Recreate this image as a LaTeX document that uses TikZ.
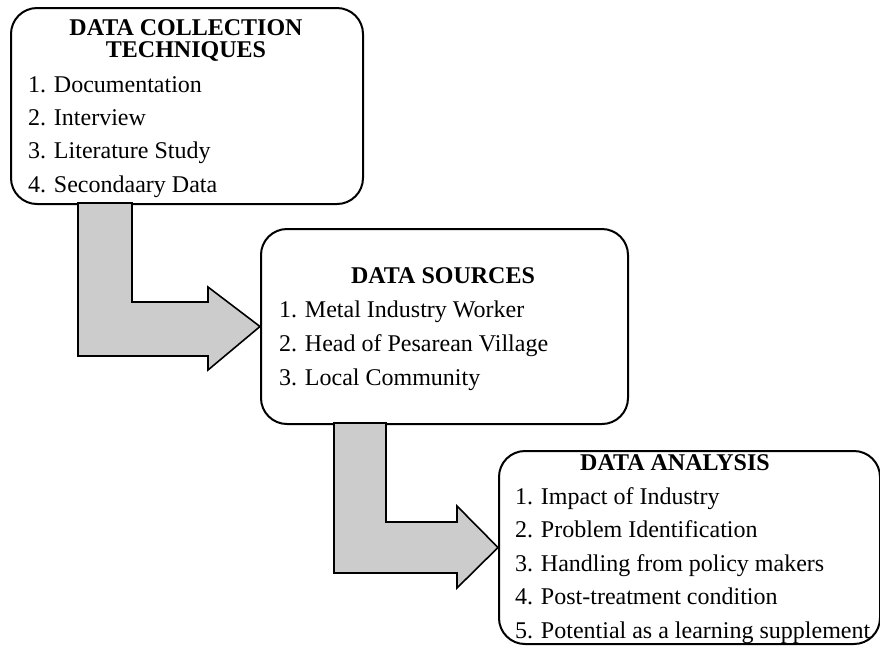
\documentclass[tikz,border=0pt]{standalone}
\usepackage{fontspec}
\setmainfont{Liberation Serif}
\usetikzlibrary{positioning}

\begin{document}
\begin{tikzpicture}[x=0.5pt, y=-0.5pt, line width = 1 pt,
box/.style={draw, fill=white, rounded corners=13pt, anchor=north west, inner sep=0pt},
bigarrow/.style={draw, fill=gray!40, line width=0.8pt, line join=miter},
title/.style={anchor=base, inner sep=0pt, font=\fontsize{12}{14}\selectfont\bfseries},
item/.style={anchor=base west, inner sep=0pt, font=\fontsize{12}{14}\selectfont}]

\useasboundingbox (0,0) rectangle (880,645);

% boxes
\node [box, minimum width=176pt, minimum height=98pt] (collect) at (10,7) {};
\node [box, minimum width=183.5pt, minimum height=97.5pt] (sources) at (260,228) {};
\node [box, minimum width=190.5pt, minimum height=96.5pt] (analysis) at (498,450) {};

% big bent arrows
\draw [bigarrow] (78,203) -- (132,203) -- (132,302) -- (208,302) -- (208,287)
  -- (sources.west) -- (208,370) -- (208,356) -- (78,356) -- cycle;
\draw [bigarrow] (334,423) -- (386,423) -- (386,522) -- (457,522) -- (457,506)
  -- (analysis.west) -- (457,588) -- (457,573) -- (334,573) -- cycle;

% data collection techniques
\node [title] (ctitle) at (186,35) {DATA COLLECTION};
\node [title] (ctitleb) at (186,57) {TECHNIQUES};
\node [item] (c1) at (27,92) {1. Documentation};
\node [item] (c2) at (27,125) {2. Interview};
\node [item] (c3) at (27,158) {3. Literature Study};
\node [item] (c4) at (27,192) {4. Secondaary Data};

% data sources
\node [title] (stitle) at (443,283) {DATA SOURCES};
\node [item] (s1) at (278,317) {1. Metal Industry Worker};
\node [item] (s2) at (278,351) {2. Head of Pesarean Village};
\node [item] (s3) at (278,385) {3. Local Community};

% data analysis
\node [title] (atitle) at (675,470) {DATA ANALYSIS};
\node [item] (a1) at (514,504) {1. Impact of Industry};
\node [item] (a2) at (514,537.5) {2. Problem Identification};
\node [item] (a3) at (514,571) {3. Handling from policy makers};
\node [item] (a4) at (514,604.5) {4. Post-treatment condition};
\node [item] (a5) at (514,638) {5. Potential as a learning supplement};

\end{tikzpicture}
\end{document}
